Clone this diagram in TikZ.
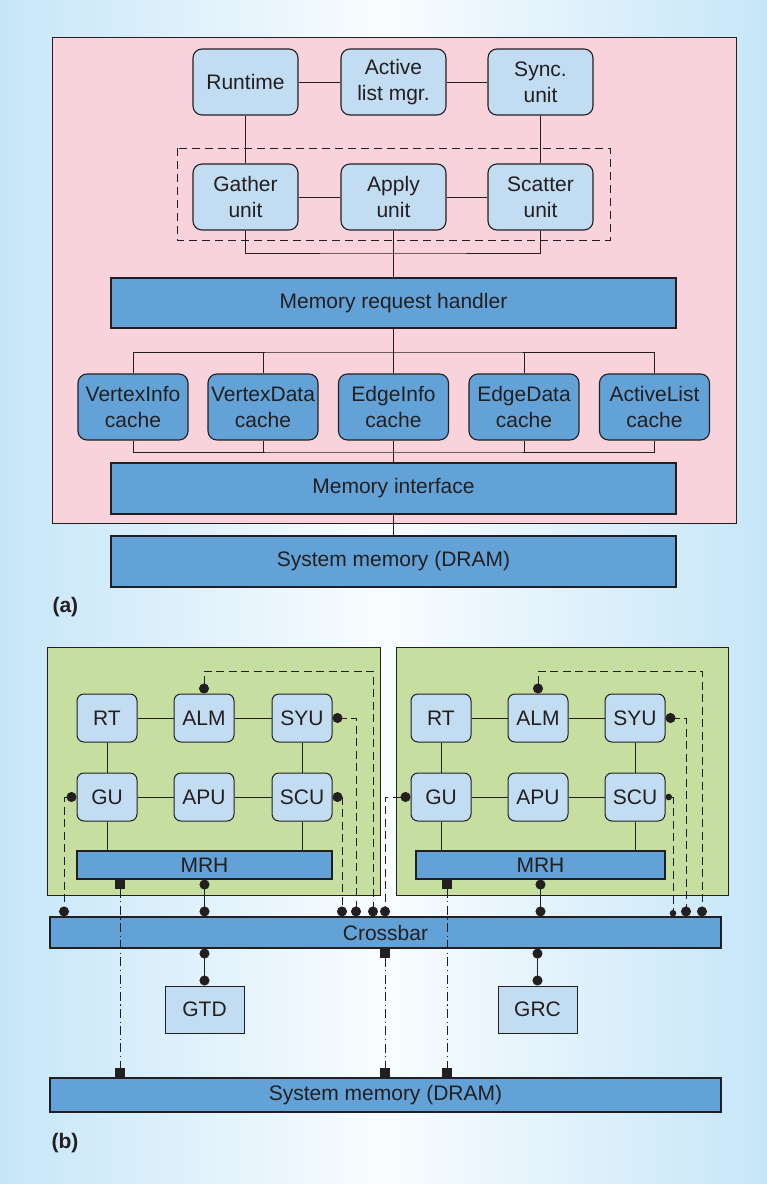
\documentclass[tikz,border=0pt]{standalone}
\usepackage{fontspec}
\setmainfont{Liberation Sans}
\usetikzlibrary{arrows.meta}
\definecolor{bgblue}{HTML}{C6E6F8}
\definecolor{pinkbg}{HTML}{F9D3DB}
\definecolor{lblue}{HTML}{C2DCF2}
\definecolor{dblue}{HTML}{63A2D7}
\definecolor{greenbg}{HTML}{C6DFA0}
\definecolor{ink}{HTML}{231F20}
\begin{document}
\begin{tikzpicture}[x=1pt,y=-1pt,
  font=\fontsize{21}{26}\selectfont, text=ink,
  lbox/.style={draw=ink, line width=1.1pt, fill=lblue, rounded corners=9pt,
    minimum width=105pt, minimum height=66pt, inner sep=0pt, align=center},
  cbox/.style={draw=ink, line width=1.1pt, fill=dblue, rounded corners=9pt,
    minimum width=110pt, minimum height=66pt, inner sep=0pt, align=center},
  bar/.style={draw=ink, line width=1.1pt, fill=dblue, inner sep=0pt},
  sbox/.style={draw=ink, line width=1pt, fill=lblue, rounded corners=7pt,
    minimum width=60pt, minimum height=48pt, inner sep=0pt},
  qbox/.style={draw=ink, line width=1pt, fill=lblue,
    minimum width=79pt, minimum height=47pt, inner sep=0pt},
  wire/.style={draw=ink, line width=0.9pt},
  dwire/.style={wire, dash pattern=on 8pt off 4.5pt},
  ddwire/.style={wire, dash pattern=on 9pt off 3.5pt on 1.2pt off 3.5pt},
  bb/.style={{Circle[length=10pt,width=10pt]}-{Circle[length=10pt,width=10pt]}},
  sb/.style={{Circle[length=6.5pt,width=6.5pt]}-{Circle[length=6.5pt,width=6.5pt]}},
  qq/.style={{Square[length=9.5pt,width=9.5pt]}-{Square[length=9.5pt,width=9.5pt]}},
  panel/.style={draw=ink, line width=0.8pt}
]
\useasboundingbox (0,0) rectangle (767,1184);
\shade[left color=bgblue, right color=bgblue, middle color=bgblue!10] (0,0) rectangle (767,1184);

% ---------------- panel (a) ----------------
\fill[pinkbg] (52,37) rectangle (736,523);
\draw[panel] (52,37) rectangle (736,523);

\node[lbox] (rt)  at (245.5,82) {Runtime};
\node[lbox] (alm) at (393.5,82) {Active\\list mgr.};
\node[lbox] (syu) at (540.5,82) {Sync.\\unit};
\node[lbox] (ga)  at (245.5,197) {Gather\\unit};
\node[lbox] (ap)  at (393.5,197) {Apply\\unit};
\node[lbox] (sc)  at (540.5,197) {Scatter\\unit};
\draw[wire, dash pattern=on 8pt off 5pt] (177,148) rectangle (610,240);

\node[bar, minimum width=565pt, minimum height=50pt] (mrh) at (393.5,303) {Memory request handler};

\node[cbox] (c1) at (133,407) {VertexInfo\\cache};
\node[cbox] (c2) at (263,407) {VertexData\\cache};
\node[cbox] (c3) at (393.5,407) {EdgeInfo\\cache};
\node[cbox] (c4) at (524,407) {EdgeData\\cache};
\node[cbox] (c5) at (654.5,407) {ActiveList\\cache};

\node[bar, minimum width=565pt, minimum height=51pt] (mi) at (393.5,488.5) {Memory interface};
\node[bar, minimum width=565pt, minimum height=51pt] (sysa) at (393.5,561.5) {System memory (DRAM)};

\coordinate (busA) at (393.5,253);
\coordinate (busB) at (393.5,352);
\coordinate (busC) at (393.5,452);

\draw[wire] (rt) -- (alm);
\draw[wire] (alm) -- (syu);
\draw[wire] (rt) -- (ga);
\draw[wire] (syu) -- (sc);
\draw[wire] (ga) -- (ap);
\draw[wire] (ap) -- (sc);
\draw[wire] (ga.south) |- (busA) -| (sc.south);
\draw[wire] (ap.south) -- (mrh.north);
\draw[wire] (mrh.south) -- (busB);
\draw[wire] (c1.north) |- (busB) -| (c5.north);
\draw[wire] (c2.north) -- (c2.north |- busB);
\draw[wire] (c4.north) -- (c4.north |- busB);
\draw[wire] (c3.north) -- (busB);
\draw[wire] (c1.south) |- (busC) -| (c5.south);
\draw[wire] (c2.south) -- (c2.south |- busC);
\draw[wire] (c4.south) -- (c4.south |- busC);
\draw[wire] (c3.south) -- (mi.north);
\draw[wire] (mi.south) -- (sysa.north);

\node[anchor=west, font=\fontsize{21}{24}\selectfont\bfseries] (la) at (49,607) {(a)};

% ---------------- panel (b) ----------------
\fill[greenbg] (47,647) rectangle (380,895);
\draw[panel] (47,647) rectangle (380,895);
\fill[greenbg] (396,647) rectangle (728,895);
\draw[panel] (396,647) rectangle (728,895);

\node[sbox] (rt1)  at (107,718) {RT};
\node[sbox] (alm1) at (204,718) {ALM};
\node[sbox] (syu1) at (302,718) {SYU};
\node[sbox] (gu1)  at (107,797) {GU};
\node[sbox] (apu1) at (204,797) {APU};
\node[sbox] (scu1) at (302,797) {SCU};
\node[bar, minimum width=255pt, minimum height=28pt] (mrh1) at (204.5,865) {MRH};

\node[sbox] (rt2)  at (441,718) {RT};
\node[sbox] (alm2) at (538,718) {ALM};
\node[sbox] (syu2) at (635,718) {SYU};
\node[sbox] (gu2)  at (441,797) {GU};
\node[sbox] (apu2) at (538,797) {APU};
\node[sbox] (scu2) at (635,797) {SCU};
\node[bar, minimum width=249pt, minimum height=28pt] (mrh2) at (540.5,865) {MRH};

\node[bar, minimum width=671pt, minimum height=31pt] (xbar) at (385.5,932.5) {Crossbar};
\node[qbox] (gtd) at (204.5,1009.5) {GTD};
\node[qbox] (grc) at (537.5,1009.5) {GRC};
\node[bar, minimum width=671pt, minimum height=34pt] (sysb) at (385.5,1095) {System memory (DRAM)};

% solid links inside the tiles
\foreach \i in {1,2}{
  \draw[wire] (rt\i) -- (alm\i);
  \draw[wire] (alm\i) -- (syu\i);
  \draw[wire] (rt\i) -- (gu\i);
  \draw[wire] (syu\i) -- (scu\i);
  \draw[wire] (gu\i) -- (apu\i);
  \draw[wire] (apu\i) -- (scu\i);
  \draw[wire] (gu\i.south) -- (gu\i.south |- mrh\i.north);
  \draw[wire] (scu\i.south) -- (scu\i.south |- mrh\i.north);
}

\coordinate (x64) at (64,0);
\coordinate (x342) at (342,0);
\coordinate (x356) at (356,0);
\coordinate (x385) at (385,0);
\coordinate (x673) at (673,0);
\coordinate (x686) at (686,0);
\coordinate (x120) at (120,0);
\coordinate (x447) at (447,0);
\coordinate (top1) at (373,671);
\coordinate (top2) at (702,671);

% left tile dashed links
\draw[dwire, bb] (gu1.west) -| (x64 |- xbar.north);
\draw[dwire, bb] (alm1.north) |- (top1) -- (top1 |- xbar.north);
\draw[dwire, bb, dash phase=-9pt] (syu1.east) -| (x356 |- xbar.north);
\draw[dwire, bb] (scu1.east) -| (x342 |- xbar.north);
\draw[wire, bb] (mrh1.south) -- (mrh1.south |- xbar.north);

% right tile dashed links
\draw[dwire, bb] (gu2.west) -| (x385 |- xbar.north);
\draw[dwire, bb] (alm2.north) |- (top2) -- (top2 |- xbar.north);
\draw[dwire, bb, dash phase=-9pt] (syu2.east) -| (x686 |- xbar.north);
\draw[dwire, sb] (scu2.east) -| (x673 |- xbar.north);
\draw[wire, bb] (mrh2.south) -- (mrh2.south |- xbar.north);

% crossbar to global units
\draw[wire, bb] (xbar.south -| gtd) -- (gtd.north);
\draw[wire, bb] (xbar.south -| grc) -- (grc.north);

% dash-dot memory links
\draw[ddwire, qq] (mrh1.south -| x120) -- (sysb.north -| x120);
\draw[ddwire, qq] (mrh2.south -| x447) -- (sysb.north -| x447);
\draw[ddwire, qq] (xbar.south -| x385) -- (sysb.north -| x385);

\node[anchor=west, font=\fontsize{21}{24}\selectfont\bfseries] (lb) at (48,1143) {(b)};
\end{tikzpicture}
\end{document}
